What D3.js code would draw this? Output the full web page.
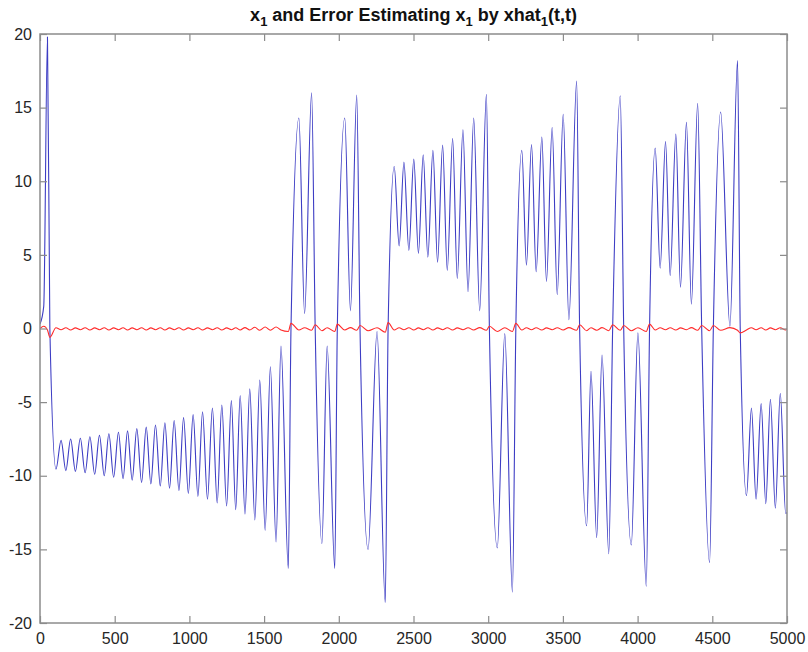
<!DOCTYPE html>
<meta charset="utf-8">
<style>
body { margin: 0; background: #fff; }
.axis text { font: 16px "Liberation Sans", Arial, sans-serif; fill: #262626; }
.axis line { stroke: #8c8c8c; stroke-width: 1.2; }
.axis path { display: none; }
.title { font: bold 18px "Liberation Sans", Arial, sans-serif; fill: #111; }
</style>
<body>
<svg width="808" height="652"></svg>
<script src="https://d3js.org/d3.v7.min.js"></script>
<script>

// turning points (and zero crossings) of x1 over time
var t = [0, 25, 50, 66, 107, 141, 173, 205, 237, 270, 302, 334, 366, 398, 430, 461, 493, 525, 556, 586,
  617, 648, 680, 711, 742, 773, 805, 836, 867, 898, 930, 961, 993, 1025, 1057, 1088, 1121, 1154, 1186, 1217,
  1249, 1281, 1310, 1340, 1372, 1404, 1438, 1471, 1507, 1542, 1580, 1613, 1662, 1680, 1733, 1771, 1818, 1842, 1887, 1922,
  1973, 1990, 2040, 2078, 2120, 2142, 2196, 2256, 2311, 2330, 2371, 2404, 2436, 2469, 2502, 2533, 2565, 2596, 2630, 2661,
  2695, 2726, 2762, 2793, 2831, 2865, 2903, 2943, 2988, 3008, 3061, 3111, 3162, 3185, 3225, 3256, 3290, 3321, 3359, 3390,
  3428, 3462, 3502, 3540, 3592, 3612, 3659, 3688, 3726, 3762, 3807, 3833, 3884, 3907, 3958, 4002, 4058, 4080, 4118, 4151,
  4187, 4218, 4256, 4287, 4327, 4360, 4402, 4429, 4482, 4507, 4556, 4618, 4669, 4687, 4729, 4762, 4793, 4827, 4858, 4889,
  4922, 4955, 4991, 5000];

var x1 = [0.3, 1.5, 19.8, 0, -9.55, -7.6, -9.65, -7.5, -9.7, -7.45, -9.8, -7.35, -9.9, -7.25, -10.0, -7.15, -10.1, -7.05, -10.2, -6.95,
  -10.3, -6.8, -10.45, -6.7, -10.55, -6.55, -10.7, -6.4, -10.85, -6.25, -11.0, -6.05, -11.2, -5.85, -11.4, -5.65, -11.6, -5.4, -11.85, -5.2,
  -12.05, -4.9, -12.3, -4.55, -12.6, -4.1, -13.0, -3.5, -13.7, -2.6, -14.5, -1.2, -16.3, 0, 14.3, 1.0, 16.0, 0, -14.6, -1.2,
  -16.3, 0, 14.3, 1.2, 15.85, 0, -15.0, -0.2, -18.6, 0, 11.0, 5.6, 11.3, 5.3, 11.5, 5.1, 11.8, 4.85, 12.1, 4.5,
  12.45, 3.95, 12.9, 3.4, 13.5, 2.5, 14.3, 1.2, 15.9, 0, -14.9, -0.35, -17.9, 0, 12.1, 4.3, 12.5, 3.85, 13.0, 3.2,
  13.65, 2.3, 14.55, 0.6, 16.8, 0, -13.4, -2.9, -14.2, -1.8, -15.3, 0, 15.8, 0, -14.7, -0.3, -17.5, 0, 12.25, 4.1,
  12.7, 3.6, 13.2, 2.8, 14.0, 1.65, 15.3, 0, -15.9, 0, 14.7, 0.15, 18.2, 0, -11.35, -5.4, -11.6, -5.1, -11.9, -4.8,
  -12.2, -4.4, -12.55, -12.5];

// estimation error x1 - xhat1 at the same times
var err = [0, 0.15, -0.1, -0.6, 0.05, -0.08, 0.05, -0.1, 0.04, -0.08, 0.05, -0.1, 0.04, -0.08, 0.05, -0.1, 0.04, -0.08, 0.05, -0.1,
  0.04, -0.08, 0.05, -0.1, 0.04, -0.08, 0.05, -0.1, 0.04, -0.08, 0.05, -0.1, 0.04, -0.08, 0.05, -0.1, 0.04, -0.08, 0.05, -0.1,
  0.04, -0.08, 0.05, -0.1, 0.06, -0.1, 0.08, -0.12, 0.1, -0.12, 0.1, -0.1, -0.2, 0.35, -0.1, 0.05, -0.12, 0.25, -0.15, 0.05,
  -0.2, 0.3, -0.1, 0.06, -0.12, 0.2, -0.15, 0.05, -0.25, 0.4, -0.1, 0.05, -0.08, 0.05, -0.1, 0.04, -0.08, 0.05, -0.1, 0.04,
  -0.08, 0.05, -0.1, 0.04, -0.08, 0.05, -0.1, 0.06, -0.12, 0.15, -0.2, 0.05, -0.2, 0.35, -0.1, 0.05, -0.08, 0.05, -0.1, 0.04,
  -0.08, 0.05, -0.1, 0.06, -0.12, 0.25, -0.15, 0.05, -0.12, 0.06, -0.15, 0.25, -0.12, 0.2, -0.15, 0.05, -0.2, 0.3, -0.1, 0.05,
  -0.08, 0.05, -0.1, 0.04, -0.08, 0.06, -0.12, 0.2, -0.15, 0.2, -0.12, 0.06, -0.12, -0.3, -0.1, 0.05, -0.08, 0.05, -0.1, 0.04,
  -0.08, 0.05, -0.1, 0.0];

var xTicks = [0, 500, 1000, 1500, 2000, 2500, 3000, 3500, 4000, 4500, 5000];
var yTicks = [-20, -15, -10, -5, 0, 5, 10, 15, 20];

var svg = d3.select("svg"),
    margin = {top: 34, right: 21, bottom: 29, left: 40},
    width = +svg.attr("width") - margin.left - margin.right,
    height = +svg.attr("height") - margin.top - margin.bottom,
    g = svg.append("g").attr("transform", "translate(" + margin.left + "," + margin.top + ")");

var x = d3.scaleLinear().domain([0, 5000]).range([0, width]);
var y = d3.scaleLinear().domain([-20, 20]).range([height, 0]);

// plain integer labels, ascii minus
var plain = function(d) { return String(d); };

var data = t.map(function(d, i) { return {t: d, x1: x1[i], e: err[i]}; });

g.append("defs").append("clipPath").attr("id", "clip")
  .append("rect").attr("width", width).attr("height", height);

var line = d3.line()
    .curve(d3.curveMonotoneX)
    .x(function(d) { return x(d.t); })
    .y(function(d) { return y(d.x1); });

var errLine = d3.line()
    .curve(d3.curveMonotoneX)
    .x(function(d) { return x(d.t); })
    .y(function(d) { return y(d.e); });

g.append("path")
    .datum(data)
    .attr("clip-path", "url(#clip)")
    .attr("fill", "none")
    .attr("stroke", "#3d3dc4")
    .attr("stroke-width", 1.1)
    .attr("d", line);

g.append("path")
    .datum(data)
    .attr("clip-path", "url(#clip)")
    .attr("fill", "none")
    .attr("stroke", "#ff2a2a")
    .attr("stroke-width", 1.1)
    .attr("d", errLine);

// axes: ticks point inward on all four sides
g.append("g").attr("class", "axis")
    .attr("transform", "translate(0," + height + ")")
    .call(d3.axisBottom(x).tickValues(xTicks).tickSize(-7).tickPadding(10).tickFormat(plain));

g.append("g").attr("class", "axis")
    .call(d3.axisTop(x).tickValues(xTicks).tickSize(-7).tickFormat(""));

g.append("g").attr("class", "axis")
    .call(d3.axisLeft(y).tickValues(yTicks).tickSize(-7).tickPadding(8).tickFormat(plain));

g.append("g").attr("class", "axis")
    .attr("transform", "translate(" + width + ",0)")
    .call(d3.axisRight(y).tickValues(yTicks).tickSize(-7).tickFormat(""));

g.append("rect")
    .attr("width", width)
    .attr("height", height)
    .attr("fill", "none")
    .attr("stroke", "#8c8c8c")
    .attr("stroke-width", 1.5);

// title with subscripts
var title = svg.append("text")
    .attr("class", "title")
    .attr("x", margin.left + width / 2)
    .attr("y", 21)
    .attr("text-anchor", "middle");

var parts = [["x", 0], ["1", 1], [" and Error Estimating x", 0], ["1", 1],
             [" by xhat", 0], ["1", 1], ["(t,t)", 0]];
parts.forEach(function(p, i) {
  var prevSub = i > 0 && parts[i - 1][1];
  title.append("tspan")
      .attr("font-size", p[1] ? "13px" : null)
      .attr("dy", p[1] ? 5 : (prevSub ? -5 : null))
      .text(p[0]);
});

</script>
</body>
